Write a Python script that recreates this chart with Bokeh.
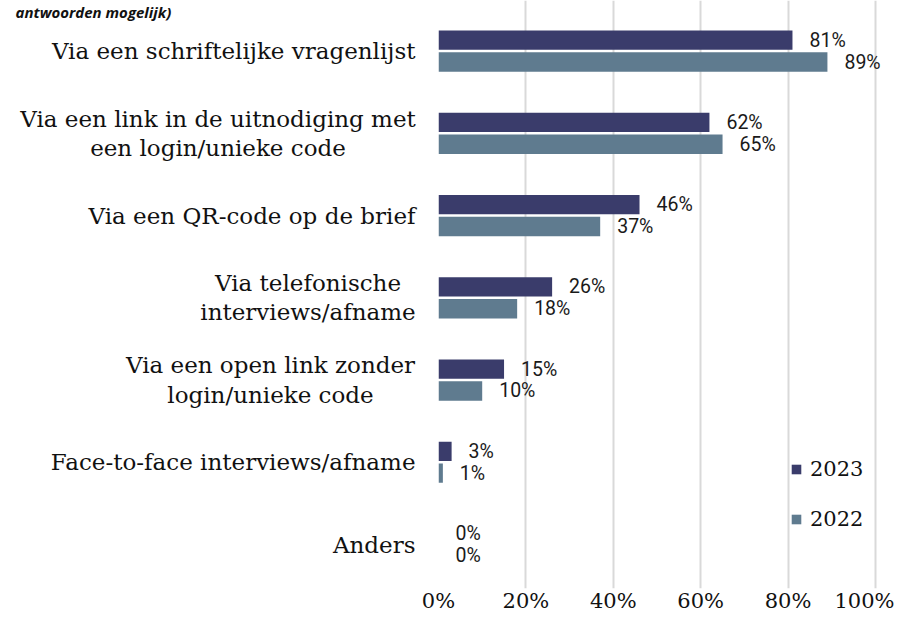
from bokeh.plotting import figure
from bokeh.layouts import row
from bokeh.models import FactorRange, Legend, LegendItem, ColumnDataSource, LabelSet
from bokeh.transform import dodge
from bokeh.core.properties import value
from bokeh.embed import file_html
from bokeh.resources import INLINE

title_tail = "antwoorden mogelijk)"
categories = [
    "Via een schriftelijke vragenlijst",
    "Via een link in de uitnodiging met\neen login/unieke code",
    "Via een QR-code op de brief",
    "Via telefonische\ninterviews/afname",
    "Via een open link zonder\nlogin/unieke code",
    "Face-to-face interviews/afname",
    "Anders",
]
values_2023 = [81, 62, 46, 26, 15, 3, 0]
values_2022 = [89, 65, 37, 18, 10, 1, 0]
years = ["2023", "2022"]
colors = ["#3A3C6B", "#5F7B8F"]
x_ticks = [0, 20, 40, 60, 80, 100]

SERIF = "DejaVu Serif"
CAT_SIZE = 23
TOTAL_W = 894
H = 615
LEFT_W = 418          # width of the label panel (px)
MAIN_PAD_L = 20       # room for the "0%" tick label
PX_PER_100 = 437      # px from 0% to 100%
MAIN_W = TOTAL_W - LEFT_W
FRAME_W = MAIN_W - MAIN_PAD_L
BOTTOM = 25
LABEL_RIGHT = 415      # right edge of category labels, in label-panel px
SHIFT = -0.04          # small vertical nudge of every row (in bands)
PAD = 0.15             # total band padding of the category range
TITLE_DY = 0.5 + PAD / 2 - 0.135   # baseline of the title tail, just below the top edge
# approximate rendered width (px) of the longest line of each multi-line label
longest_line_width = {1: 395, 3: 215, 4: 290}

factors = list(reversed(categories))
y_range = FactorRange(factors=factors, range_padding=PAD / len(categories))

# ---- left panel: category labels ----
lp = figure(width=LEFT_W, height=H, output_backend="svg", toolbar_location=None,
            y_range=y_range, x_range=(0, LEFT_W),
            min_border_left=0, min_border_right=0, min_border_top=0, min_border_bottom=BOTTOM)
lp.axis.visible = False
lp.grid.visible = False
lp.outline_line_color = None

# tail of the chart title at the very top of the picture
title_src = ColumnDataSource(dict(x=[15], cat=[categories[0]], t=[title_tail]))
lp.text(x="x", y=dodge("cat", TITLE_DY, range=y_range), text="t", source=title_src,
        text_align="left", text_baseline="alphabetic",
        text_font=value("Open Sans"), text_font_style="bold italic",
        text_font_size="15px", text_color="#111111")

single = [i for i, c in enumerate(categories) if "\n" not in c]
multi = [i for i, c in enumerate(categories) if "\n" in c]
src_single = ColumnDataSource(dict(cat=[categories[i] for i in single],
                                   x=[LABEL_RIGHT] * len(single)))
src_multi = ColumnDataSource(dict(cat=[categories[i] for i in multi],
                                  x=[LABEL_RIGHT - longest_line_width[i] / 2 for i in multi]))
lp.text(x="x", y=dodge("cat", SHIFT, range=y_range), text="cat", source=src_single,
        text_align="right", text_baseline="middle",
        text_font=value(SERIF), text_font_size=f"{CAT_SIZE}px", text_color="#111111")
lp.text(x="x", y=dodge("cat", SHIFT, range=y_range), text="cat", source=src_multi,
        text_align="center", text_baseline="middle",
        text_font=value(SERIF), text_font_size=f"{CAT_SIZE}px", text_color="#111111",
        text_line_height=1.12)

# ---- main panel: bars ----
p = figure(width=MAIN_W, height=H, output_backend="svg", toolbar_location=None,
           y_range=y_range, x_range=(0, 100 * FRAME_W / PX_PER_100),
           min_border_left=MAIN_PAD_L, min_border_right=0, min_border_top=0,
           min_border_bottom=BOTTOM)

src = ColumnDataSource(dict(cat=categories, v23=values_2023, v22=values_2022,
                            l23=[f"{v}%" for v in values_2023],
                            l22=[f"{v}%" for v in values_2022]))

off23, off22 = 0.133 + SHIFT, -0.133 + SHIFT
r23 = p.hbar(y=dodge("cat", off23, range=y_range), right="v23", left=0, height=0.235,
             source=src, fill_color=colors[0], line_color=None)
r22 = p.hbar(y=dodge("cat", off22, range=y_range), right="v22", left=0, height=0.235,
             source=src, fill_color=colors[1], line_color=None)

for col, lab, off in [("v23", "l23", off23), ("v22", "l22", off22)]:
    ls = LabelSet(x=col, y=dodge("cat", off, range=y_range), text=lab, source=src,
                  x_offset=17, text_baseline="middle", text_align="left",
                  text_font=value("Roboto"), text_font_size="19.5px", text_color="#1a1a1a")
    p.add_layout(ls)

legend = Legend(items=[LegendItem(label=years[0], renderers=[r23]),
                       LegendItem(label=years[1], renderers=[r22])],
                location=(352, 57), orientation="vertical")
legend.glyph_width = 12
legend.glyph_height = 12
legend.spacing = 26
legend.padding = 0
legend.margin = 0
legend.label_text_font = SERIF
legend.label_text_font_size = "21px"
legend.label_text_color = "#111111"
legend.border_line_color = None
legend.background_fill_alpha = 0
legend.label_standoff = 8
p.add_layout(legend, "center")

p.xaxis.ticker = x_ticks
p.xaxis.major_label_overrides = {t: f"{t}%" for t in x_ticks}
p.xaxis.major_label_text_font = SERIF
p.xaxis.major_label_text_font_size = "21px"
p.xaxis.major_label_text_color = "#111111"
p.xaxis.axis_line_color = None
p.xaxis.major_tick_line_color = None
p.xaxis.minor_tick_line_color = None
p.xaxis.major_tick_out = 0
p.xaxis.major_tick_in = 0
p.xaxis.major_label_standoff = 0

p.yaxis.visible = False

p.xgrid.grid_line_color = "#D9D9D9"
p.xgrid.grid_line_width = 2
p.ygrid.grid_line_color = None
p.outline_line_color = None

layout = row(lp, p, spacing=0)
open("out.html", "w").write(file_html(layout, INLINE))
